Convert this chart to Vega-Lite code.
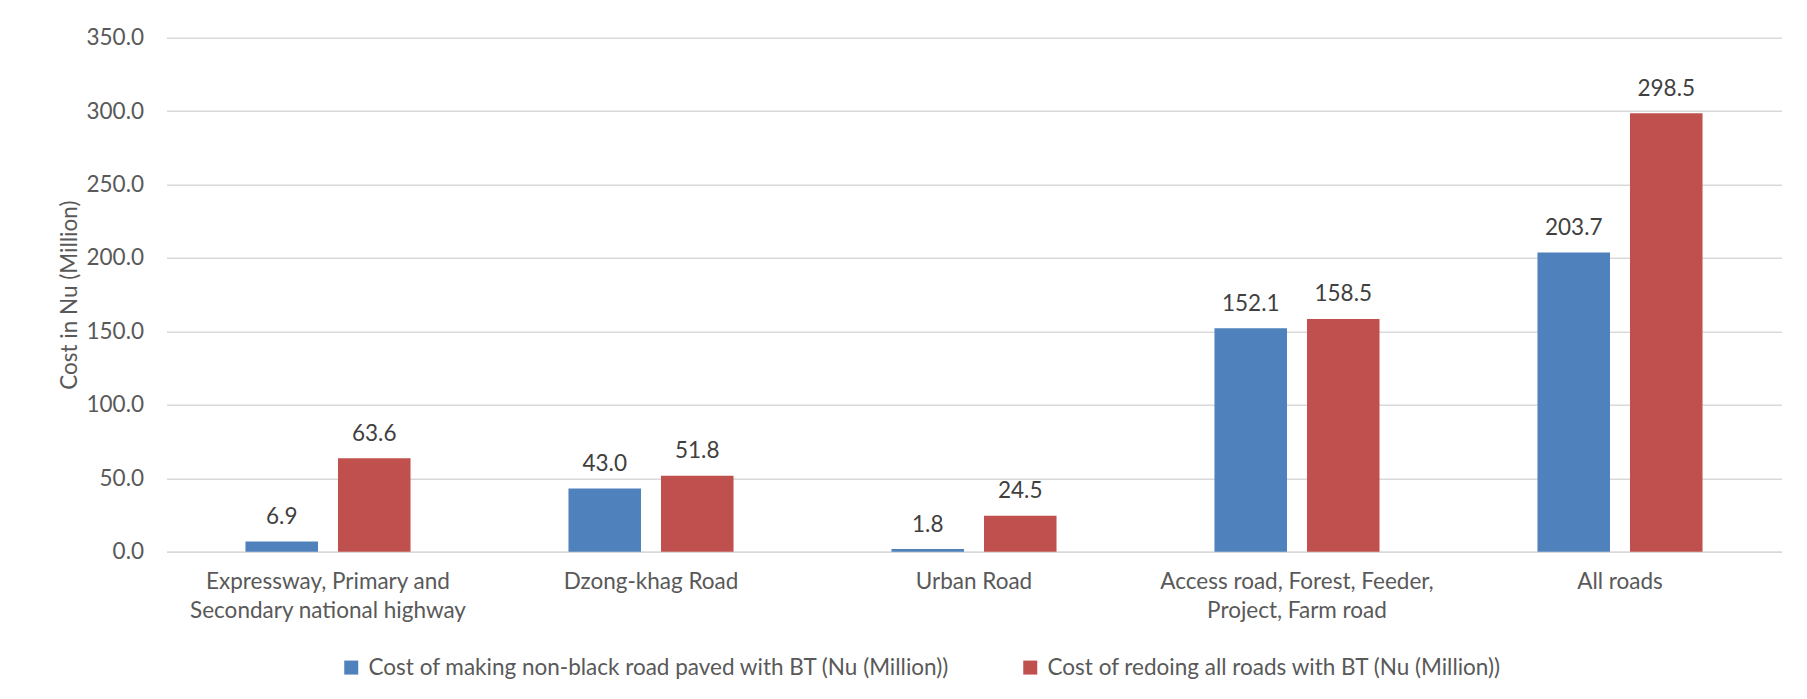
{
  "$schema": "https://vega.github.io/schema/vega-lite/v6.json",
  "autosize": {"type": "none"},
  "width": 1615,
  "height": 514,
  "padding": {"left": 166.5, "top": 37.7, "right": 25.5, "bottom": 147.3},
  "background": "white",
  "data": {
    "values": [
      {"road": "Expressway, Primary and Secondary national highway", "series": "Cost of making non-black road paved with BT (Nu (Million))", "cost": 6.9},
      {"road": "Expressway, Primary and Secondary national highway", "series": "Cost of redoing all roads with BT (Nu (Million))", "cost": 63.6},
      {"road": "Dzong-khag Road", "series": "Cost of making non-black road paved with BT (Nu (Million))", "cost": 43.0},
      {"road": "Dzong-khag Road", "series": "Cost of redoing all roads with BT (Nu (Million))", "cost": 51.8},
      {"road": "Urban Road", "series": "Cost of making non-black road paved with BT (Nu (Million))", "cost": 1.8},
      {"road": "Urban Road", "series": "Cost of redoing all roads with BT (Nu (Million))", "cost": 24.5},
      {"road": "Access road, Forest, Feeder, Project, Farm road", "series": "Cost of making non-black road paved with BT (Nu (Million))", "cost": 152.1},
      {"road": "Access road, Forest, Feeder, Project, Farm road", "series": "Cost of redoing all roads with BT (Nu (Million))", "cost": 158.5},
      {"road": "All roads", "series": "Cost of making non-black road paved with BT (Nu (Million))", "cost": 203.7},
      {"road": "All roads", "series": "Cost of redoing all roads with BT (Nu (Million))", "cost": 298.5}
    ]
  },
  "encoding": {
    "x": {
      "field": "road",
      "type": "nominal",
      "sort": null,
      "scale": {"paddingInner": 0.489, "paddingOuter": 0.2445},
      "axis": {
        "title": null,
        "labelAngle": 0,
        "ticks": false,
        "domain": true,
        "domainColor": "#d9d9d9",
        "domainWidth": 1.5,
        "labelFont": "Lato",
        "labelFontSize": 22.5,
        "labelColor": "#595959",
        "labelBaseline": "top",
        "labelPadding": 19,
        "labelLineHeight": 29.3,
        "labelLimit": 400,
        "labelExpr": "datum.value == 'Expressway, Primary and Secondary national highway' ? ['Expressway, Primary and', 'Secondary national highway'] : datum.value == 'Access road, Forest, Feeder, Project, Farm road' ? ['Access road, Forest, Feeder,', 'Project, Farm road'] : datum.value"
      }
    },
    "xOffset": {
      "field": "series",
      "type": "nominal",
      "sort": null,
      "scale": {"paddingInner": 0.216, "paddingOuter": 0}
    },
    "y": {
      "field": "cost",
      "type": "quantitative",
      "scale": {"domain": [0, 350], "nice": false},
      "axis": {
        "title": "Cost in Nu (Million)",
        "values": [0, 50, 100, 150, 200, 250, 300, 350],
        "format": ".1f",
        "ticks": false,
        "domain": false,
        "grid": true,
        "gridColor": "#d9d9d9",
        "gridWidth": 1.5,
        "labelFont": "Lato",
        "labelFontSize": 22.5,
        "labelColor": "#595959",
        "labelPadding": 23,
        "titleFont": "Lato",
        "titleFontSize": 22.5,
        "titleFontWeight": "normal",
        "titleColor": "#595959",
        "titlePadding": 4
      }
    }
  },
  "layer": [
    {
      "mark": {"type": "bar"},
      "encoding": {
        "color": {
          "field": "series",
          "type": "nominal",
          "sort": null,
          "scale": {"range": ["#4f81bd", "#c0504d"]},
          "legend": {
            "title": null,
            "orient": "none",
            "direction": "horizontal",
            "legendX": 173.5,
            "legendY": 618.5,
            "padding": 0,
            "symbolType": "square",
            "symbolSize": 196,
            "symbolStrokeWidth": 0,
            "labelFont": "Lato",
            "labelFontSize": 22.5,
            "labelColor": "#595959",
            "labelOffset": 6,
            "labelLimit": 700,
            "columnPadding": 69
          }
        }
      }
    },
    {
      "mark": {
        "type": "text",
        "baseline": "alphabetic",
        "dy": -17.5,
        "font": "Lato",
        "fontSize": 22.5,
        "color": "#404040"
      },
      "encoding": {
        "text": {"field": "cost", "type": "quantitative", "format": ".1f"}
      }
    }
  ],
  "config": {
    "view": {"stroke": null}
  }
}
